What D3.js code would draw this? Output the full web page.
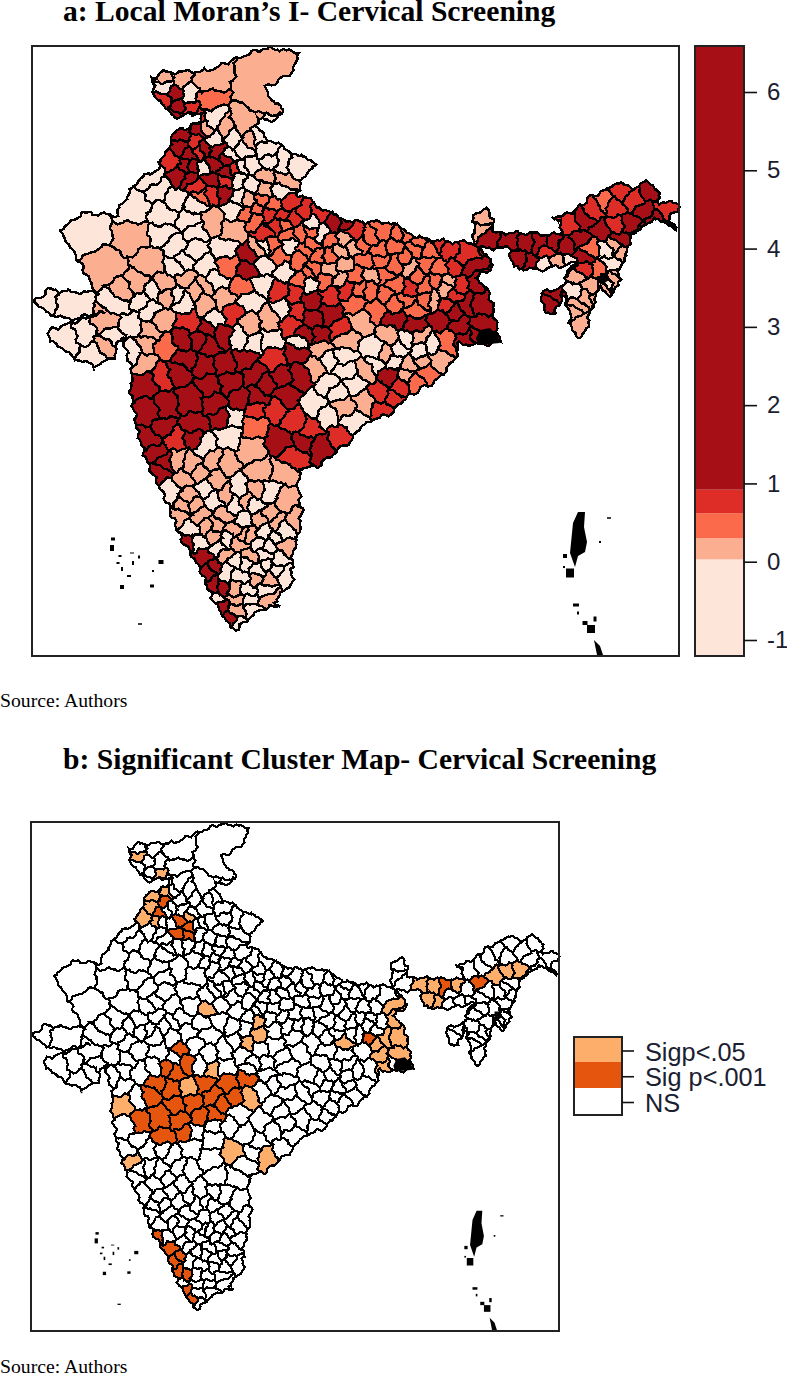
<!DOCTYPE html>
<html><head><meta charset="utf-8">
<script src="https://cdn.jsdelivr.net/npm/d3@7"></script>
<style>html,body{margin:0;background:#fff}svg{display:block}</style>
</head><body><svg id="c" width="787" height="1375"></svg>
<script>
const titles = ["a: Local Moran\u2019s I- Cervical Screening","b: Significant Cluster Map- Cervical Screening"];
const sourceText = "Source: Authors";
const moranTicks = [-1,0,1,2,3,4,5,6];
const moranBreaks = [-1.2,0.03,0.30,0.62,0.92,6.6];
const moranColors = ["#fee5d9","#fcae91","#fb6a4a","#de2d26","#a50f15"];
const clusterLabels = ["Sigp<.05","Sig p<.001","NS"];
const clusterColors = ["#fdae6b","#e6550d","#ffffff"];
const moranLevels = [-0.3,0.15,0.45,0.75,2.0];

// Map reading units (shared by both panels)
const mapDomainX = [32,679], mapDomainY = [46,656];

const indiaOutline = [[273,48],[297,53],[298,62],[287,75],[267,88],[268,98],[280,107],[283,115],[270,122],[257,117],[257,125],[263,133],[272,142],[287,150],[315,163],[300,182],[298,195],[310,200],[333,215],[353,222],[387,222],[400,227],[414,237],[450,242],[474,243],[474,213],[489,209],[493,225],[494,233],[524,233],[560,235],[562,221],[550,217],[562,216],[577,208],[590,198],[607,190],[617,183],[634,188],[647,180],[660,192],[655,202],[677,203],[678,212],[669,215],[675,228],[654,218],[644,227],[630,237],[627,253],[619,267],[619,287],[609,297],[600,287],[590,313],[585,335],[579,337],[572,330],[569,310],[562,293],[555,315],[544,310],[542,293],[564,287],[565,277],[575,263],[537,270],[512,267],[510,248],[480,248],[494,267],[475,277],[489,293],[495,317],[500,342],[477,345],[460,343],[452,363],[437,380],[404,400],[387,415],[370,420],[350,440],[333,455],[317,467],[300,468],[298,487],[302,513],[297,537],[292,557],[292,583],[273,603],[280,605],[257,610],[238,630],[230,625],[213,600],[200,567],[180,537],[167,500],[148,463],[137,430],[130,383],[133,377],[127,353],[122,335],[113,357],[93,367],[73,357],[50,340],[50,330],[75,322],[105,312],[67,320],[43,310],[33,302],[47,290],[97,293],[90,280],[75,253],[60,233],[80,213],[117,215],[125,197],[147,173],[158,170],[160,163],[172,143],[172,133],[197,123],[203,113],[173,117],[155,97],[152,80],[163,72],[187,72],[210,70],[227,62],[257,50]];

// [x, y, index into moranLevels]
const districts = [
[258,92,1],[205,82,1],[165,77,1],[180,78,1],[165,87,0],[175,95,4],[190,95,0],[205,99,2],[165,100,3],[178,107,4],[190,108,3],[195,117,3],[175,115,4],
[212,122,0],[225,130,1],[205,128,1],[215,140,0],[243,125,1],[232,138,0],[250,140,1],[258,137,0],[245,150,0],[265,150,0],[283,165,0],[270,163,0],[295,167,0],[252,165,0],[240,167,0],[230,158,0],[283,180,1],[265,175,1],[250,185,0],[240,180,0],[280,190,0],[265,190,1],[238,197,0],[250,200,1],[235,210,0],
[183,135,4],[200,130,4],[195,142,3],[180,148,4],[205,150,4],[215,150,4],[190,155,4],[172,162,3],[185,165,4],[178,175,4],[194,166,4],[202,168,0],[215,165,4],[225,170,4],[210,180,4],[225,183,3],[190,178,4],[197,187,3],[212,192,3],[225,192,4],[228,160,4],[198,152,3],[237,168,3],[200,195,2],
[90,235,0],[133,207,0],[133,238,1],[160,187,0],[175,200,0],[155,178,0],[165,215,0],[195,205,0],[190,220,0],[165,235,0],[195,230,0],[212,222,1],[105,265,1],[150,262,1],[175,245,0],[185,262,0],[195,250,0],[205,265,0],[178,268,0],[165,285,1],[185,280,1],[195,290,1],[150,290,0],[125,295,1],[140,285,1],[175,295,0],[205,285,1],[215,280,0],
[233,230,1],[228,265,2],[225,250,0],[248,270,4],[243,287,2],[262,285,0],[265,265,0],[265,245,0],[250,255,4],
[247,213,2],[260,200,2],[275,205,2],[290,205,3],[303,213,3],[275,225,3],[255,220,2],[265,235,3],[285,225,2],[300,232,2],[312,222,0],[322,235,0],[335,222,4],[352,232,3],[345,224,4],[320,215,3],[330,240,2],[312,245,2],[290,245,0],[280,255,2],[300,260,2],[320,255,2],[340,250,1],[355,248,1],[370,240,2],[385,232,2],[398,235,2],[365,260,2],[345,265,1],[330,270,1],[312,270,2],[300,280,2],[285,272,0],[280,290,3],[295,295,3],[310,285,0],
[310,300,4],[295,310,3],[315,320,4],[330,295,3],[330,315,4],[345,290,3],[355,305,2],[370,290,2],[375,310,2],[360,320,1],[340,330,3],[305,335,4],[320,335,4],[290,325,3],[345,340,1],
[395,245,2],[415,250,2],[430,250,2],[450,250,3],[465,255,3],[470,268,4],[395,265,2],[410,268,1],[425,265,2],[440,270,2],[455,270,3],[395,285,2],[410,290,3],[425,285,2],[445,290,1],[460,285,3],[475,280,4],[395,305,2],[415,310,2],[435,300,1],[455,295,3],[465,305,4],[480,305,4],[395,320,4],[415,325,4],[440,320,4],[460,325,4],[480,325,4],[455,312,4],[420,337,1],[405,340,0],[445,342,2],[465,340,4],[478,335,4],[390,335,1],
[258,210,2],[268,215,3],[282,215,3],[295,218,3],[310,232,2],[290,235,2],[272,245,2],[258,250,1],[305,250,2],[328,255,2],[345,240,1],[362,245,2],[378,250,2],[405,235,2],[420,240,2],[440,242,3],[405,258,2],[418,275,2],[435,280,2],[450,280,1],[385,275,2],[380,262,2],[355,275,2],[340,280,1],[325,282,2],[310,272,2],[385,295,2],[405,300,2],[425,300,2],[445,305,3],[360,290,2],[372,275,1],
[483,217,1],[481,230,1],[488,238,4],[510,240,4],[525,245,4],[540,245,4],[555,240,4],[565,245,4],[580,240,4],[530,262,4],[520,258,4],[545,252,3],[544,263,0],[557,263,1],[569,265,0],[585,258,4],[590,248,2],[584,268,3],[570,225,3],[585,220,4],[594,210,3],[604,203,2],[614,207,3],[620,190,3],[635,200,3],[650,192,4],[645,210,4],[665,208,3],[655,220,4],[630,225,4],[615,225,3],[600,230,4],[640,235,4],[620,240,4],[607,250,0],[615,246,1],[625,252,1],[610,265,0],[620,275,1],[600,270,2],[603,290,1],[607,283,0],[614,280,1],[590,287,1],[577,277,1],[572,290,0],[585,298,1],[578,305,1],[583,322,1],[575,312,1],[597,298,1],[557,293,4],[550,306,4],
[73,305,0],[40,300,0],[107,323,1],[120,303,0],[140,300,0],[130,325,0],[150,312,0],[160,320,1],[170,295,1],[185,302,0],[150,330,1],[93,352,0],[68,340,0],[85,335,0],[103,345,1],[112,335,0],
[135,352,0],[145,345,1],[165,347,2],[160,377,3],[145,362,1],[183,340,4],[185,360,4],[210,345,4],[147,384,4],[178,372,4],[205,365,4],[225,365,4],[245,360,4],[273,357,3],[283,377,4],[300,375,4],[298,352,4],[255,375,4],[230,382,4],[210,385,4],[265,385,4],[285,395,4],[165,405,4],[190,400,4],[215,405,4],[240,400,4],[258,397,4],[222,418,4],[150,410,4],[163,430,4],[152,440,4],[195,425,4],[173,440,3],[195,437,4],[157,450,4],[165,462,4],[160,473,4],[255,410,3],[275,410,3],[255,425,2],[295,422,3],[310,430,3],[280,440,4],[293,457,3],[305,442,4],[320,445,4],[340,437,3],[315,405,0],[328,415,0],[337,392,0],[353,423,0],[343,408,1],[389,377,4],[377,393,3],[385,410,3],[367,370,1],[317,367,1],[330,385,0],[355,385,0],[365,400,1],[345,370,0],[253,343,0],[300,343,0],[320,350,1],[328,360,0],[343,357,0],[387,353,1],
[400,348,0],[420,352,0],[438,360,1],[410,365,1],[425,372,2],[400,387,3],[415,383,2],[394,400,3],[432,345,0],[375,350,0],[395,362,0],[375,365,0],[405,375,1],[420,362,1],
[250,300,0],[225,300,1],[215,320,0],[270,320,1],[250,325,1],[233,312,3],[190,322,3],[198,340,4],[222,335,4],[208,328,4],[240,338,0],[270,340,0],[283,310,0],[205,305,1],
[228,437,0],[205,445,0],[233,417,0],[177,460,1],[190,465,1],[215,460,1],[250,450,1],[225,462,1],[283,472,1],[260,472,1],[200,475,1],[185,480,1],[215,480,1],[170,490,0],[205,487,0],[240,490,0],[270,492,0],[285,500,1],[190,495,1],[185,507,1],[215,500,0],[235,505,0],[270,515,1],[295,520,1],[180,517,1],[200,515,1],[225,515,1],[245,520,0],[190,530,0],[208,527,1],[215,537,1],[235,530,1],[250,535,1],[265,530,0],[285,530,0],[200,543,0],[220,547,0],[240,545,1],[258,545,0],[275,540,0],[284,548,1],
[195,505,1],[225,495,1],[255,505,0],[255,490,1],[245,500,1],[215,525,1],[225,540,0],[243,535,1],[260,520,1],[275,522,1],[270,545,0],[245,565,0],[268,565,0],[258,580,1],[250,600,0],[235,600,1],[225,555,1],
[235,560,0],[250,555,1],[265,555,0],[280,558,0],[225,572,0],[240,575,0],[258,570,0],[275,570,0],[285,575,0],[235,590,1],[268,578,1],[248,590,0],[265,590,0],[270,600,1],[238,610,1],[252,610,0],
[187,540,4],[203,557,4],[207,572,4],[215,567,4],[212,585,4],[222,590,4],[217,597,0],[220,607,4],[228,620,4],[240,625,0]
];

// Sample points inside significant districts (map units); each colours the district that contains it
const clusterP05 = [[172,88],[186,109],[186,136],[178,142],[174,163],[183,166],[217,161],[200,130],[183,135],[228,160],[247,268],[310,287],[304,311],[312,305],[451,316],[475,295],[472,268],[414,307],[247,341],[229,363],[141,389],[162,409],[194,425],[267,395],[302,379],[279,441],[312,451],[156,459],[519,239],[519,259],[529,256],[545,241],[510,240],[525,245],[555,240],[520,258],[530,262],[600,230],[609,227],[624,221],[609,235],[474,268],[477,291],[484,299],[477,307],[484,328],[465,305],[480,305],[465,340],[460,325],[480,325],[455,312],[470,268],[475,280]];
const clusterP001 = [[194,145],[186,155],[214,172],[224,172],[215,165],[225,170],[210,180],[225,183],[439,310],[211,323],[199,343],[218,339],[194,363],[214,371],[190,379],[230,387],[248,371],[279,377],[292,357],[172,395],[199,387],[221,395],[239,403],[218,415],[264,363],[205,365],[185,360],[178,372],[210,385],[210,345],[245,360],[255,375],[265,385],[190,400],[215,405],[240,400],[195,425],[258,397],[187,540],[203,557],[207,572],[215,567],[212,585],[222,590],[220,607],[228,620],[538,244],[578,235],[575,247]];

// Solid black specks: [x, y, width, height]
const specks = [[113,539,4,3],[112,548,4,6],[120,556,3,2],[132,553,4,1],[139,557,2,3],[161,562,5,4],[118,563,3,2],[133,563,2,4],[122,569,2,4],[129,576,4,2],[153,571,2,2],[122,587,4,4],[152,586,4,3],[140,624,4,1.5],[94,370,2,2],
[565,556,4,4],[570,573,8,9],[609,518,4,1.5],[600,542,2,2],[564,567,2,2],[576,605,6,3],[578,613,2,3],[585,623,5,4],[591,629,8,8],[595,619,3,5]];
const blackShapes = [
 [[578,512],[585,512],[584,527],[587,542],[585,552],[578,556],[575,567],[570,553],[573,523]],
 [[594,640],[600,646],[603,655],[597,655]],
 [[480,330],[490,328],[498,336],[500,343],[478,345],[476,338]],
 [[600,273],[607,273],[609,280],[603,284],[600,280]]
];

const blackInk = "#000";
const svg = d3.select("#c");
let clipId = 0;

// District borders in map units, roughened so they wander like surveyed boundaries
const roughen = ([a,b]) => [
  a + 1.5*Math.sin(b*.37+a*.13) + .9*Math.sin(b*.91-a*.47),
  b + 1.5*Math.sin(a*.33-b*.17) + .9*Math.sin(a*.83+b*.53)
];
function densify(ring){
  const out=[];
  ring.forEach((p,i)=>{
    const q=ring[(i+1)%ring.length], n=Math.max(1,Math.ceil(Math.hypot(q[0]-p[0],q[1]-p[1])/2.5));
    for(let k=0;k<n;k++) out.push(roughen([p[0]+(q[0]-p[0])*k/n,p[1]+(q[1]-p[1])*k/n]));
  });
  return out;
}
const delaunay = d3.Delaunay.from(districts,d=>d[0],d=>d[1]);
const voronoi = delaunay.voronoi([mapDomainX[0],mapDomainY[0],mapDomainX[1],mapDomainY[1]]);
const cellRings = districts.map((d,i)=>{ const c=voronoi.cellPolygon(i); return c?densify(c.slice(0,-1)):[]; });
const outlineRing = densify(indiaOutline);
const findOf = p => delaunay.find(p[0],p[1]);
const sigHigh = new Set(clusterP001.map(findOf));
const sigMid = new Set(clusterP05.map(findOf));

function drawMap(box, fillFor, lw){
  const x = d3.scaleLinear().domain(mapDomainX).range([box.x0,box.x1]);
  const y = d3.scaleLinear().domain(mapDomainY).range([box.y0,box.y1]);
  const g = svg.append("g");
  const id = "clip"+(clipId++);
  const line = d3.line().x(d=>x(d[0])).y(d=>y(d[1])).curve(d3.curveLinearClosed);
  g.append("clipPath").attr("id",id).append("path").attr("d",line(outlineRing));
  const cells = g.append("g").attr("clip-path",`url(#${id})`);
  cells.selectAll("path").data(districts).join("path")
    .attr("d",(d,i)=>line(cellRings[i])).attr("fill",fillFor)
    .attr("stroke",blackInk).attr("stroke-width",lw).attr("shape-rendering","crispEdges");
  g.append("path").attr("d",line(outlineRing)).attr("fill","none")
    .attr("stroke",blackInk).attr("stroke-width",lw).attr("shape-rendering","crispEdges");
  g.selectAll("path.b").data(blackShapes).join("path").attr("class","b").attr("d",line).attr("fill",blackInk);
  g.selectAll("rect.s").data(specks).join("rect").attr("class","s")
    .attr("x",d=>x(d[0]-d[2]/2)).attr("y",d=>y(d[1]-d[3]/2))
    .attr("width",d=>x(d[2])-x(0)).attr("height",d=>y(d[3])-y(0)).attr("fill",blackInk);
  svg.append("rect").attr("x",box.x0).attr("y",box.y0).attr("width",box.x1-box.x0).attr("height",box.y1-box.y0)
    .attr("fill","none").attr("stroke","#222").attr("stroke-width",2);
}

const moranColor = d3.scaleThreshold().domain(moranBreaks.slice(1,-1)).range(moranColors);
drawMap({x0:32,x1:679,y0:46,y1:656}, d=>moranColor(moranLevels[d[2]]), 2.4);
drawMap({x0:31,x1:559,y0:822,y1:1331}, (d,i)=>sigHigh.has(i)?clusterColors[1]:sigMid.has(i)?clusterColors[0]:clusterColors[2], 2.2);

// Moran legend
const ly = d3.scaleLinear().domain([-1,6]).range([640,92]);
const lg = svg.append("g");
d3.pairs(moranBreaks).forEach((p,i)=>{
  lg.append("rect").attr("x",695).attr("width",49).attr("y",ly(p[1])).attr("height",ly(p[0])-ly(p[1])).attr("fill",moranColors[i]);
});
lg.append("rect").attr("x",695).attr("width",49).attr("y",46).attr("height",610).attr("fill","none").attr("stroke","#222").attr("stroke-width",2);
const ax = lg.append("g").attr("transform","translate(744,0)")
  .call(d3.axisRight(ly).tickValues(moranTicks).tickSize(13).tickSizeOuter(0).tickPadding(10).tickFormat(d=>String(d)));
ax.select(".domain").remove();
ax.selectAll("line").attr("stroke","#111").attr("stroke-width",1.6);
ax.selectAll("text").attr("font-family","Liberation Sans").attr("font-size",24).attr("fill","#1a2030");

// Cluster legend
const cy = d3.scalePoint().domain(clusterLabels).range([1050.5,1102]);
const cb = [1037,1062,1088,1115];
const cg = svg.append("g");
clusterLabels.forEach((l,i)=>cg.append("rect").attr("x",574).attr("width",48).attr("y",cb[i]).attr("height",cb[i+1]-cb[i]).attr("fill",clusterColors[i]));
cg.append("rect").attr("x",574).attr("width",48).attr("y",1037).attr("height",78).attr("fill","none").attr("stroke","#222").attr("stroke-width",2);
const cax = cg.append("g").attr("transform","translate(622,0)")
  .call(d3.axisRight(cy).tickSize(12).tickSizeOuter(0).tickPadding(11));
cax.select(".domain").remove();
cax.selectAll("line").attr("stroke","#111").attr("stroke-width",1.6);
cax.selectAll("text").attr("font-family","Liberation Sans").attr("font-size",25.3).attr("dy","0.38em").attr("fill","#1a2030");

// Titles and source notes
const serif = "Liberation Serif";
svg.append("text").attr("x",63).attr("y",20.5).text(titles[0]).attr("font-family",serif).attr("font-weight","bold").attr("font-size",29.6);
svg.append("text").attr("x",63).attr("y",769).text(titles[1]).attr("font-family",serif).attr("font-weight","bold").attr("font-size",29.6);
svg.append("text").attr("x",0).attr("y",707).text(sourceText).attr("font-family",serif).attr("font-size",19.7);
svg.append("text").attr("x",0).attr("y",1373).text(sourceText).attr("font-family",serif).attr("font-size",19.7);
</script></body></html>
